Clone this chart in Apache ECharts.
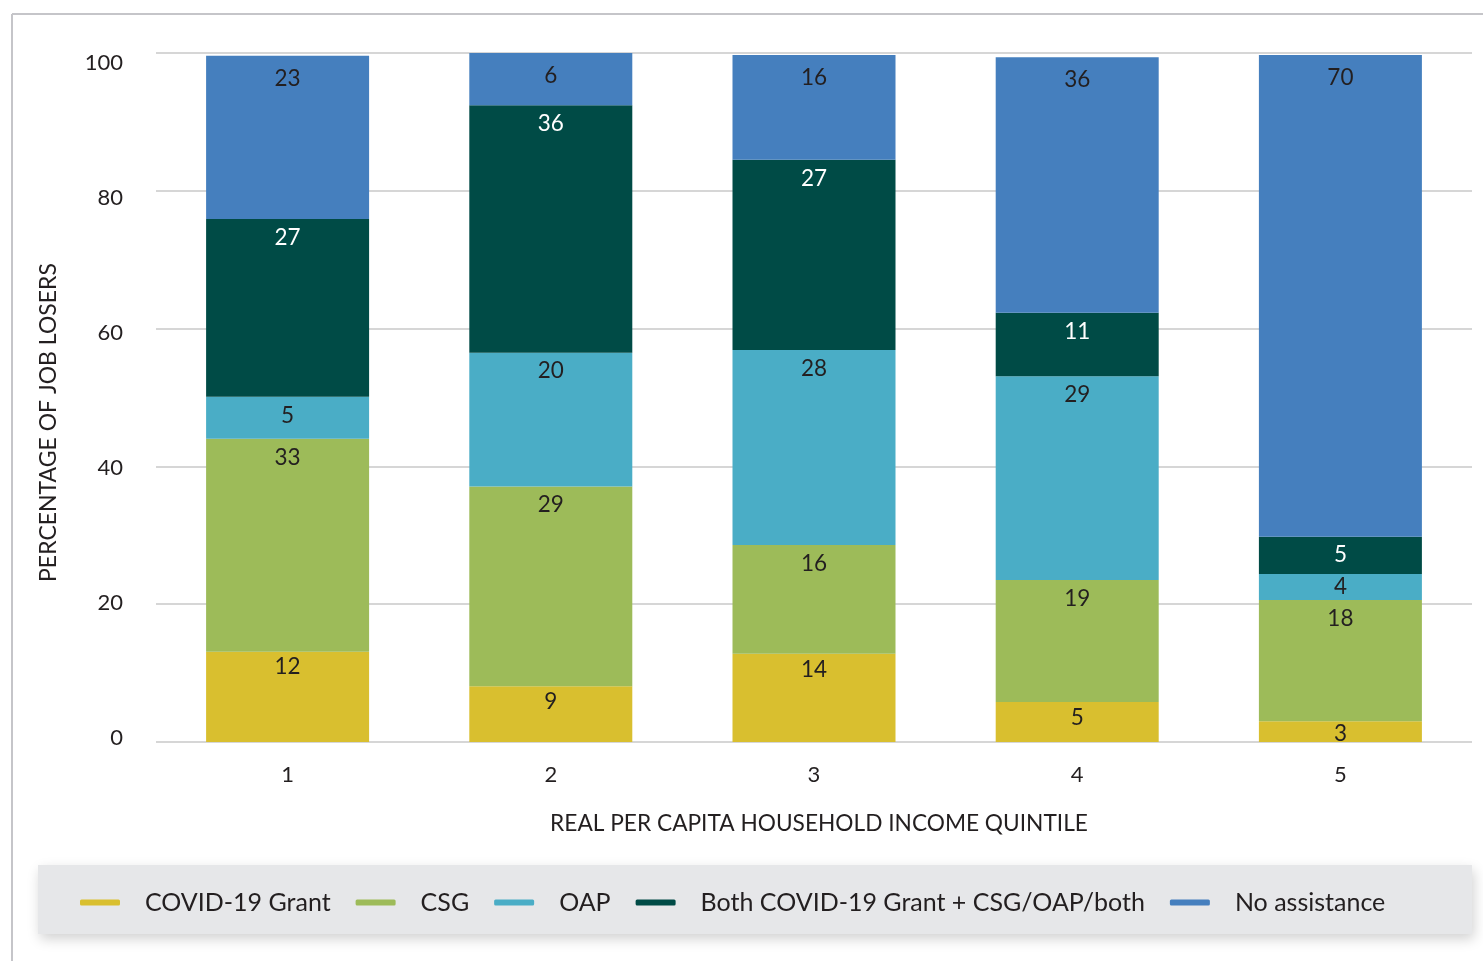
<!DOCTYPE html>
<html>
<head>
<meta charset="utf-8">
<script src="https://cdn.jsdelivr.net/npm/echarts@6/dist/echarts.min.js"></script>
<style>
html,body{margin:0;padding:0;background:#fff;}
#chart{width:1483px;height:961px;}
</style>
</head>
<body>
<div id="chart"></div>
<script>
// Categories (income quintiles)
const quintiles = ['1', '2', '3', '4', '5'];
const seriesNames = ['COVID-19 Grant', 'CSG', 'OAP', 'Both COVID-19 Grant + CSG/OAP/both', 'No assistance'];
const covidGrant = [13.1, 8.1, 12.8, 5.8, 3.0];
const csg        = [30.9, 29.0, 15.8, 17.7, 17.6];
const oap        = [6.1, 19.4, 28.3, 29.6, 3.8];
const both       = [25.8, 35.9, 27.6, 9.2, 5.4];
const noAssist   = [23.7, 7.6, 15.2, 37.1, 69.9];
// Printed segment labels
const covidLabels    = [12, 9, 14, 5, 3];
const csgLabels      = [33, 29, 16, 19, 18];
const oapLabels      = [5, 20, 28, 29, 4];
const bothLabels     = [27, 36, 27, 11, 5];
const noAssistLabels = [23, 6, 16, 36, 70];
// Y axis ticks
const yTicks = [0, 20, 40, 60, 80, 100];

const colors = ['#d9bf2f', '#9dbb59', '#4aadc6', '#004b46', '#457fbe'];
const values = [covidGrant, csg, oap, both, noAssist];
const labels = [covidLabels, csgLabels, oapLabels, bothLabels, noAssistLabels];
const labelDist = [4, 7, 7, 7, 11];
const FONT = 'Lato';
const TXT = '#231f20';

const series = seriesNames.map((name, i) => ({
  name: name,
  type: 'bar',
  stack: 'total',
  barWidth: 163,
  itemStyle: { color: colors[i] },
  label: {
    show: true,
    position: 'insideTop',
    distance: labelDist[i],
    fontFamily: FONT,
    fontSize: 22.5,
    color: i === 3 ? '#ffffff' : TXT,
    formatter: p => String(labels[i][p.dataIndex])
  },
  data: values[i].map(v => v < 4.5 ? { value: v, label: { distance: 1 } } : v)
}));

// tick label vertical nudges (printed labels sit slightly off their gridlines)
const tickRich = {};
yTicks.forEach(t => {
  const s = Math.round(-4 + 0.14 * t);
  tickRich['t' + t] = {
    fontFamily: FONT, fontSize: 22, color: TXT,
    padding: s >= 0 ? [2 * s, 0, 0, 0] : [0, 0, -2 * s, 0]
  };
});

const chart = echarts.init(document.getElementById('chart'), null, { renderer: 'canvas' });
chart.setOption({
  animation: false,
  backgroundColor: '#ffffff',
  textStyle: { fontFamily: FONT, color: TXT },
  grid: { left: 156, right: 11, top: 53, bottom: 219 },
  graphic: [
    { type: 'line', z: -10, shape: { x1: 12, y1: 14, x2: 1483, y2: 14 }, style: { stroke: '#c5c5c9', lineWidth: 2 } },
    { type: 'line', z: -10, shape: { x1: 12, y1: 14, x2: 12, y2: 961 }, style: { stroke: '#c5c5c9', lineWidth: 2 } },
    { type: 'rect', z: -5, shape: { x: 38, y: 865, width: 1434, height: 69 },
      style: { fill: '#e6e7e9', shadowBlur: 12, shadowOffsetX: 2, shadowOffsetY: 5, shadowColor: 'rgba(0,0,0,0.18)' } }
  ],
  legend: {
    left: 75,
    top: 885,
    itemWidth: 40,
    itemHeight: 6,
    itemGap: 25,
    icon: 'roundRect',
    textStyle: { fontFamily: FONT, fontSize: 25, color: TXT, padding: [0, 0, 0, 20] },
    data: seriesNames
  },
  xAxis: {
    type: 'category',
    data: quintiles,
    name: 'REAL PER CAPITA HOUSEHOLD INCOME QUINTILE',
    nameLocation: 'middle',
    nameGap: 70,
    nameTextStyle: { fontFamily: FONT, fontSize: 22.7, color: TXT, padding: [0, 0, 0, 10] },
    axisLine: { show: false },
    axisTick: { show: false },
    axisLabel: { margin: 22, fontFamily: FONT, fontSize: 22, color: TXT }
  },
  yAxis: {
    type: 'value',
    min: yTicks[0],
    max: yTicks[yTicks.length - 1],
    interval: 20,
    name: 'PERCENTAGE OF JOB LOSERS',
    nameLocation: 'middle',
    nameGap: 96,
    nameTextStyle: { fontFamily: FONT, fontSize: 23, color: TXT, padding: [0, 50, 0, 0] },
    axisLine: { show: false },
    axisTick: { show: false },
    axisLabel: {
      margin: 33,
      formatter: v => '{t' + v + '|' + v + '}',
      rich: tickRich
    },
    splitLine: { lineStyle: { color: '#c8c8c8', width: 1.5 } }
  },
  series: series
});
</script>
</body>
</html>
